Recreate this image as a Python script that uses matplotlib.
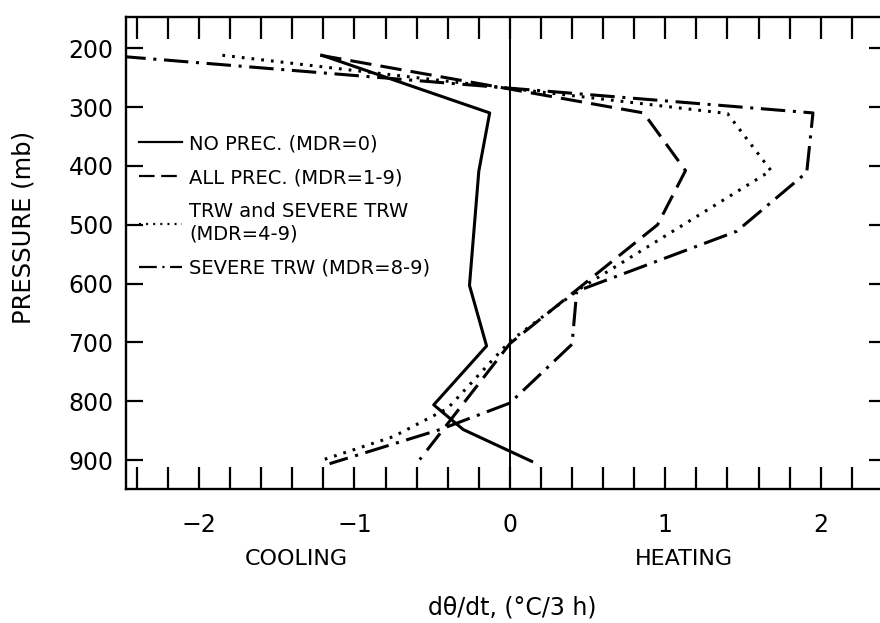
import matplotlib
matplotlib.use('Agg')
import matplotlib.pyplot as plt
from matplotlib.ticker import MultipleLocator

plt.rcParams['font.family'] = ['DejaVu Sans']

# ---- data ----
p_noprec = [212, 310, 409, 603, 706, 806, 848, 902]
x_noprec = [-1.21, -0.13, -0.20, -0.26, -0.15, -0.49, -0.30, 0.14]

p_allprec = [212, 310, 408, 500, 600, 702, 899]
x_allprec = [-1.22, 0.86, 1.13, 0.95, 0.48, 0.0, -0.58]

p_trw = [212, 311, 408, 607, 698, 812, 860, 901]
x_trw = [-1.85, 1.40, 1.68, 0.46, 0.0, -0.40, -0.75, -1.22]

p_severe = [214, 310, 411, 511, 613, 703, 803, 848, 906]
x_severe = [-2.5, 1.95, 1.91, 1.46, 0.43, 0.40, 0.0, -0.45, -1.16]

labels = ["NO PREC. (MDR=0)", "ALL PREC. (MDR=1-9)",
          "TRW and SEVERE TRW\n(MDR=4-9)", "SEVERE TRW (MDR=8-9)"]
xticks = [-2, -1, 0, 1, 2]
yticks = [200, 300, 400, 500, 600, 700, 800, 900]

fig = plt.figure(figsize=(8.8, 6.23), dpi=100)
W, H = 880, 623
ax = fig.add_axes([126 / W, (H - 489) / H, 760 / W, 472 / H])

lw = 2.2
ax.plot(x_noprec, p_noprec, color='k', lw=lw, ls='-', label=labels[0])
ax.plot(x_allprec, p_allprec, color='k', lw=lw, ls=(0, (7, 3)), label=labels[1])
ax.plot(x_trw, p_trw, color='k', lw=lw, ls=(0, (0.9, 2.3)), label=labels[2])
ax.plot(x_severe, p_severe, color='k', lw=lw, ls=(0, (8, 2.5, 1, 2.5)), label=labels[3])
ax.axvline(0, color='k', lw=1.4)

ax.set_xlim(-2.47, 2.42)
ax.set_ylim(949, 147)

ax.set_xticks(xticks)
ax.set_xticklabels([str(v) if v >= 0 else '\u2212' + str(-v) for v in xticks])
ax.xaxis.set_minor_locator(MultipleLocator(0.2))
ax.set_yticks(yticks)
ax.set_yticklabels([str(v) for v in yticks])

ax.tick_params(axis='x', which='both', direction='in', top=True, bottom=True,
               length=16, width=1.6, labelsize=17, pad=17)
ax.tick_params(axis='y', which='both', direction='in', left=True, right=True,
               length=12, width=1.6, labelsize=17, pad=9)
for s in ax.spines.values():
    s.set_linewidth(1.7)

leg = ax.legend(loc='upper left', bbox_to_anchor=(0.017, 0.752), frameon=False,
                handlelength=2.2, fontsize=14, labelspacing=0.78,
                handletextpad=0.4, borderpad=0, borderaxespad=0)
for h in leg.legend_handles:
    h.set_linewidth(1.6)

fig.text(24 / W, 1 - 227 / H, 'PRESSURE (mb)', rotation=90, ha='center',
         va='center', fontsize=17.5)
fig.text(296 / W, 1 - 559 / H, 'COOLING', ha='center', va='center', fontsize=16)
fig.text(684 / W, 1 - 559 / H, 'HEATING', ha='center', va='center', fontsize=16)
fig.text(512 / W, 1 - 608 / H, 'd\u03b8/dt, (\u00b0C/3 h)', ha='center',
         va='center', fontsize=17)

fig.savefig('out.png', dpi=100)
